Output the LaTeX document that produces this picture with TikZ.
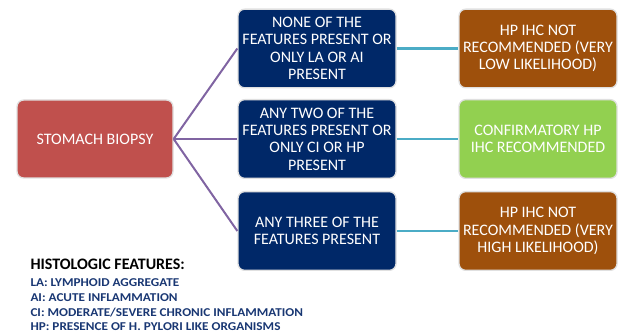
\documentclass[tikz,border=0pt]{standalone}
\usepackage{fontspec}
\setmainfont{Carlito}
\newfontfamily\legendfont[FakeStretch=1.1]{Carlito}

\definecolor{biopsyred}{RGB}{192,80,77}
\definecolor{featblue}{RGB}{0,40,104}
\definecolor{ihcbrown}{RGB}{158,80,12}
\definecolor{ihcgreen}{RGB}{146,208,80}
\definecolor{linkpurple}{RGB}{128,100,162}
\definecolor{linkcyan}{RGB}{75,172,198}
\definecolor{legendblue}{RGB}{25,55,115}

\tikzset{every picture/.style={line width=0.75pt}}
\tikzset{
	box/.style={rounded corners=5pt, draw=black!12, line width=1pt, text=white, align=center,
		minimum width=118.5pt, minimum height=59pt, inner sep=1pt, font=\fontsize{12}{13}\selectfont},
	featbox/.style={box, fill=featblue},
	ihcbox/.style={box, fill=ihcbrown},
	linkleft/.style={draw=linkpurple, line width=1.5},
	linkright/.style={draw=linkcyan, line width=2},
	legend/.style={anchor=base west, inner sep=0pt, text=legendblue, font=\legendfont\bfseries\fontsize{9}{11}\selectfont}
}

\begin{document}
\begin{tikzpicture}[x=0.75pt,y=0.75pt,yscale=-1,xscale=1]
	\path[use as bounding box] (0,0) rectangle (622,334);

	\node (biopsy) [box, fill=biopsyred, minimum width=117pt, minimum height=58.5pt] at (95,139) {STOMACH BIOPSY};

	\node (none) [featbox] at (317,48.5) {NONE OF THE\\FEATURES PRESENT OR\\ONLY LA OR AI\\PRESENT};
	\node (two) [featbox] at (317,139) {ANY TWO OF THE\\FEATURES PRESENT OR\\ONLY CI OR HP\\PRESENT};
	\node (three) [featbox] at (317,231) {ANY THREE OF THE\\FEATURES PRESENT};

	\node (low) [ihcbox] at (538,48.5) {HP IHC NOT\\RECOMMENDED (VERY\\LOW LIKELIHOOD)};
	\node (confirm) [box, fill=ihcgreen] at (538,139) {CONFIRMATORY HP\\IHC RECOMMENDED};
	\node (high) [ihcbox] at (538,231) {HP IHC NOT\\RECOMMENDED (VERY\\HIGH LIKELIHOOD)};

	\draw [linkleft] (biopsy.east) -- (none.west);
	\draw [linkleft] (biopsy.east) -- (two.west);
	\draw [linkleft] (biopsy.east) -- (three.west);
	\draw [linkright] (none.east) -- (low.west);
	\draw [linkright] (two.east) -- (confirm.west);
	\draw [linkright] (three.east) -- (high.west);

	% legend
	\node (legtitle) [anchor=base west, inner sep=0pt, font=\bfseries\fontsize{12}{14}\selectfont] at (30,270) {HISTOLOGIC FEATURES:};
	\node (legla) [legend] at (30,286.5) {LA: LYMPHOID AGGREGATE};
	\node (legai) [legend] at (30,301.5) {AI: ACUTE INFLAMMATION};
	\node (legci) [legend] at (30,316.5) {CI: MODERATE/SEVERE CHRONIC INFLAMMATION};
	\node (leghp) [legend] at (30,331) {HP: PRESENCE OF H. PYLORI LIKE ORGANISMS};
\end{tikzpicture}
\end{document}
